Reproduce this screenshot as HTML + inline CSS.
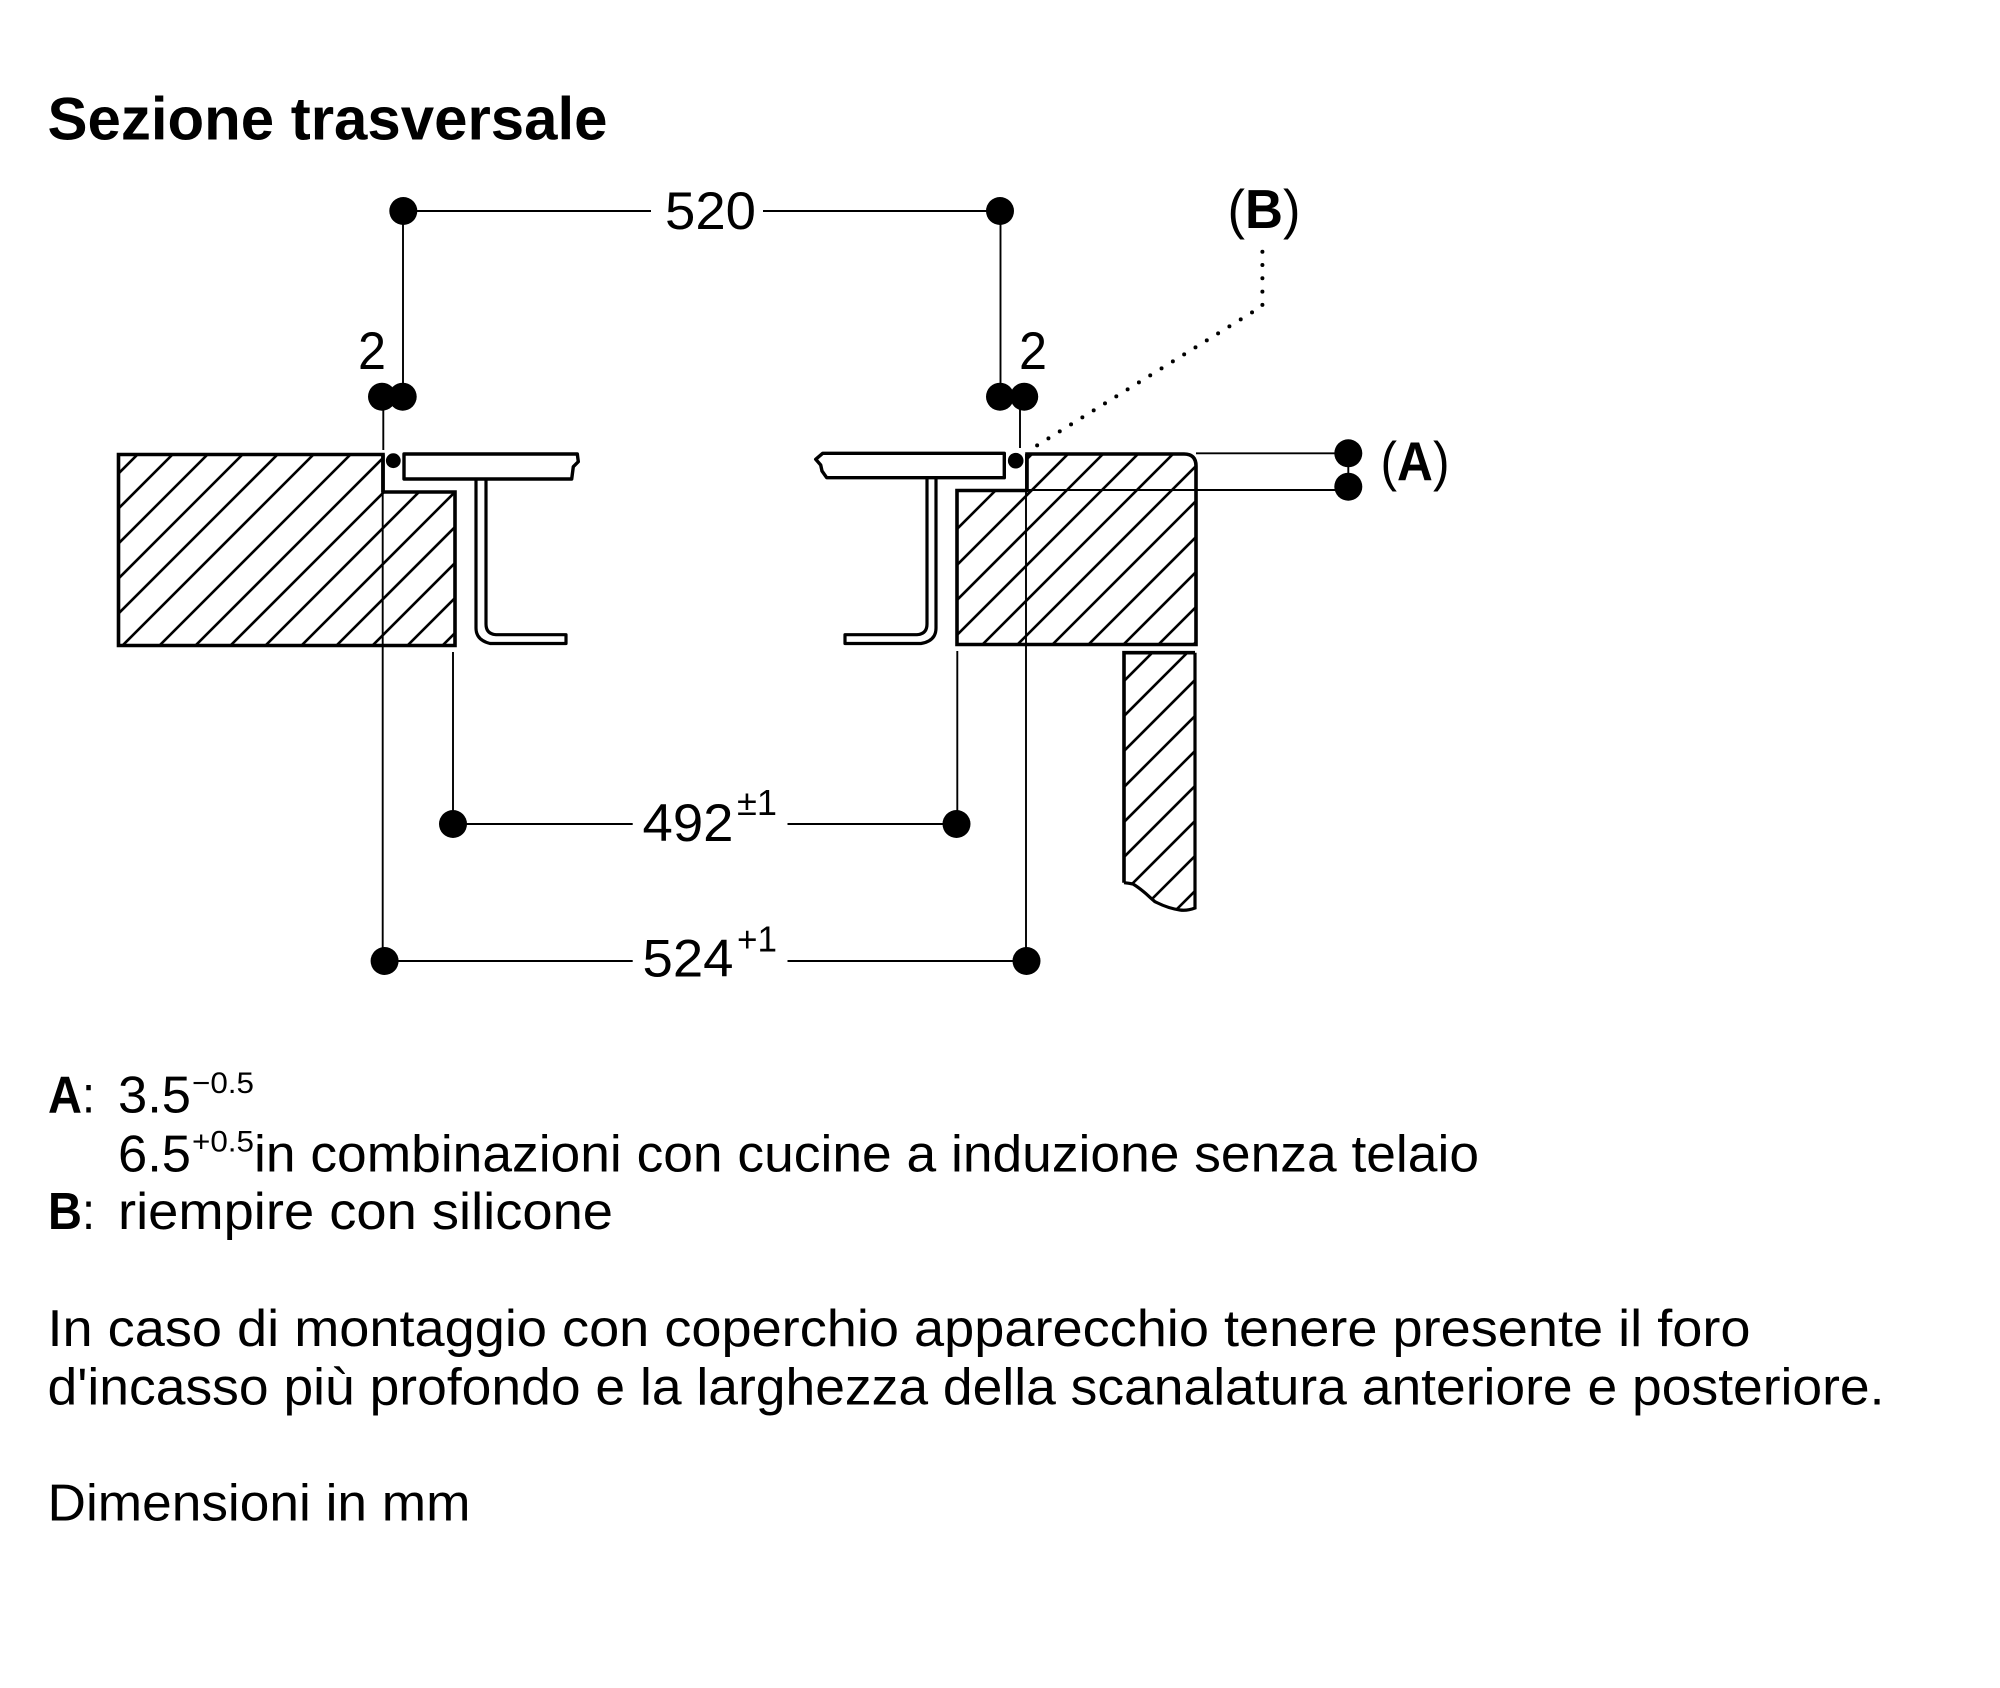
<!DOCTYPE html>
<html lang="it">
<head>
<meta charset="utf-8">
<title>Sezione trasversale</title>
<style>
html,body{margin:0;padding:0;background:#fff;width:2000px;height:1688px;overflow:hidden}
svg{display:block}
text{font-family:"Liberation Sans",sans-serif;fill:#000}
.b{font-weight:700}
</style>
</head>
<body>
<svg xmlns="http://www.w3.org/2000/svg" width="2000" height="1688" viewBox="0 0 2000 1688">
<rect width="2000" height="1688" fill="#fff"/>
<defs>
<clipPath id="cl"><path d="M118.5 454.5H383V492H455V645.5H118.5Z"/></clipPath>
<clipPath id="cr"><path d="M1027 454H1184Q1196 454 1196 466V644.5H957V490.5H1027Z"/></clipPath>
<clipPath id="cb"><path d="M1124 652.7H1194.5V908Q1187 911 1180 910C1166 908 1158 903 1155 901.7C1148 896 1143 890 1133 884Q1128 883 1124 882.7Z"/></clipPath>
</defs>

<!-- hatching -->
<g stroke="#000" stroke-width="2.6" fill="none">
<g clip-path="url(#cl)">
<path d="M142 450L110 482M177 450L110 517M212 450L110 552M247 450L110 587M282 450L110 622M318 450L118 650M355 450L155 650M391 450L191 650M426 450L226 650M461 450L261 650M497 450L297 650M532 450L332 650M568 450L368 650M603 450L403 650M638 450L438 650"/>
</g>
<g clip-path="url(#cr)">
<path d="M1036 450L836 650M1072 450L872 650M1107 450L907 650M1142 450L942 650M1177 450L977 650M1212 450L1012 650M1247 450L1047 650M1283 450L1083 650M1318 450L1118 650M1353 450L1153 650M1388 450L1188 650"/>
</g>
<g clip-path="url(#cb)">
<path d="M1155 650L890 915M1190 650L925 915M1225 650L960 915M1261 650L996 915M1296 650L1031 915M1331 650L1066 915M1366 650L1101 915M1401 650L1136 915M1436 650L1171 915"/>
</g>
</g>

<!-- wood outlines -->
<g stroke="#000" stroke-width="3.6" fill="none" stroke-linejoin="miter">
<path d="M383 454.5H118.5V645.5H455V492H383Z"/>
<path d="M383 454.5V492"/>
<path d="M1027 454H1184Q1196 454 1196 466V644.5H957V490.5H1027Z"/>
<path d="M1124 882.7V652.7H1195"/>
<path d="M1124 882.7Q1128 883 1133 884C1143 890 1148 896 1155 901.7C1158 903 1166 908 1180 910Q1187 911 1195 908V652.7" stroke-width="3.2"/>
</g>

<!-- panels -->
<g stroke="#000" stroke-width="3.4" fill="#fff" stroke-linejoin="round">
<path d="M404 454H577.3L578.3 461.7L573.3 466.7L571.7 479H404Z"/>
<path d="M1004.3 453.3H822.7L815.7 459.3L820.7 465L822 471L826.7 477.7H1004.3Z"/>
</g>

<!-- brackets -->
<g stroke="#000" stroke-width="3.2" fill="none" stroke-linejoin="round">
<path d="M476 479V628Q476 640 490 643.5H566V634.7H496Q486 634 486 624V479"/>
<path d="M936 478V628Q936 641 921 643.5H845V634.7H917Q927 634 927 624V478"/>
</g>

<!-- dimension lines -->
<g stroke="#000" stroke-width="1.9" fill="none">
<path d="M403 211H651M763 211H1000"/>
<path d="M403 211V397M1000.5 211V397"/>
<path d="M383.3 397V450M1020 397V448"/>
<path d="M382.7 492V961M1026 454V961"/>
<path d="M453 652V824M957.3 651V824"/>
<path d="M453 824H632.7M787.5 824H956.5"/>
<path d="M384.6 961H632.7M787.5 961H1026"/>
<path d="M1196 453.3H1348.3M1027 490H1348.3M1348.3 453.3V487"/>
</g>

<!-- dots -->
<g fill="#000">
<circle cx="403.3" cy="211" r="14"/>
<circle cx="1000" cy="211" r="14"/>
<circle cx="382" cy="396.7" r="14"/>
<circle cx="402.7" cy="396.7" r="14"/>
<circle cx="1000" cy="396.7" r="14"/>
<circle cx="1024.2" cy="396.7" r="14"/>
<circle cx="393.3" cy="460.7" r="7.4"/>
<circle cx="1015.7" cy="460.7" r="7.8"/>
<circle cx="1348.3" cy="453.3" r="14"/>
<circle cx="1348.3" cy="486.7" r="14"/>
<circle cx="453" cy="824" r="14"/>
<circle cx="956.5" cy="824" r="14"/>
<circle cx="384.6" cy="961" r="14"/>
<circle cx="1026.5" cy="961" r="14"/>
</g>

<!-- dotted leader -->
<path d="M1262.4 251.7V306L1034.5 447" stroke="#000" stroke-width="4" stroke-linecap="round" stroke-dasharray="0 13.3" fill="none"/>

<!-- labels -->
<text class="b" x="47.5" y="139.5" font-size="60" textLength="560" lengthAdjust="spacingAndGlyphs">Sezione trasversale</text>
<text x="665" y="229" font-size="53" textLength="91" lengthAdjust="spacingAndGlyphs">520</text>
<text x="358" y="369" font-size="53" textLength="28" lengthAdjust="spacingAndGlyphs">2</text>
<text x="1019" y="369" font-size="53" textLength="28" lengthAdjust="spacingAndGlyphs">2</text>
<text x="1227.5" y="228" font-size="55" textLength="73" lengthAdjust="spacingAndGlyphs">(<tspan class="b">B</tspan>)</text>
<text x="1380.5" y="480" font-size="55" textLength="69" lengthAdjust="spacingAndGlyphs">(<tspan class="b">A</tspan>)</text>

<text x="642.5" y="841" font-size="53" textLength="91" lengthAdjust="spacingAndGlyphs">492</text>
<text x="737" y="815" font-size="36" textLength="40" lengthAdjust="spacingAndGlyphs">±1</text>
<text x="642.5" y="976.5" font-size="53" textLength="91" lengthAdjust="spacingAndGlyphs">524</text>
<text x="737" y="951.7" font-size="36" textLength="40" lengthAdjust="spacingAndGlyphs">+1</text>

<text class="b" x="48" y="1112.7" font-size="52" textLength="47" lengthAdjust="spacingAndGlyphs">A<tspan font-weight="400">:</tspan></text>
<text x="118" y="1112.7" font-size="52" textLength="73" lengthAdjust="spacingAndGlyphs">3.5</text>
<text x="192" y="1093" font-size="30" textLength="62" lengthAdjust="spacingAndGlyphs">−0.5</text>
<text x="118" y="1171.5" font-size="52" textLength="73" lengthAdjust="spacingAndGlyphs">6.5</text>
<text x="192" y="1151.7" font-size="30" textLength="62" lengthAdjust="spacingAndGlyphs">+0.5</text>
<text x="254" y="1171.5" font-size="52" textLength="1225" lengthAdjust="spacingAndGlyphs">in combinazioni con cucine a induzione senza telaio</text>
<text class="b" x="48" y="1229" font-size="52" textLength="47" lengthAdjust="spacingAndGlyphs">B<tspan font-weight="400">:</tspan></text>
<text x="118" y="1229" font-size="52" textLength="495" lengthAdjust="spacingAndGlyphs">riempire con silicone</text>

<text x="47.5" y="1346" font-size="52" textLength="1703" lengthAdjust="spacingAndGlyphs">In caso di montaggio con coperchio apparecchio tenere presente il foro</text>
<text x="47.5" y="1404.5" font-size="52" textLength="1837" lengthAdjust="spacingAndGlyphs">d'incasso più profondo e la larghezza della scanalatura anteriore e posteriore.</text>
<text x="47.5" y="1520.5" font-size="52" textLength="423" lengthAdjust="spacingAndGlyphs">Dimensioni in mm</text>
</svg>
</body>
</html>
